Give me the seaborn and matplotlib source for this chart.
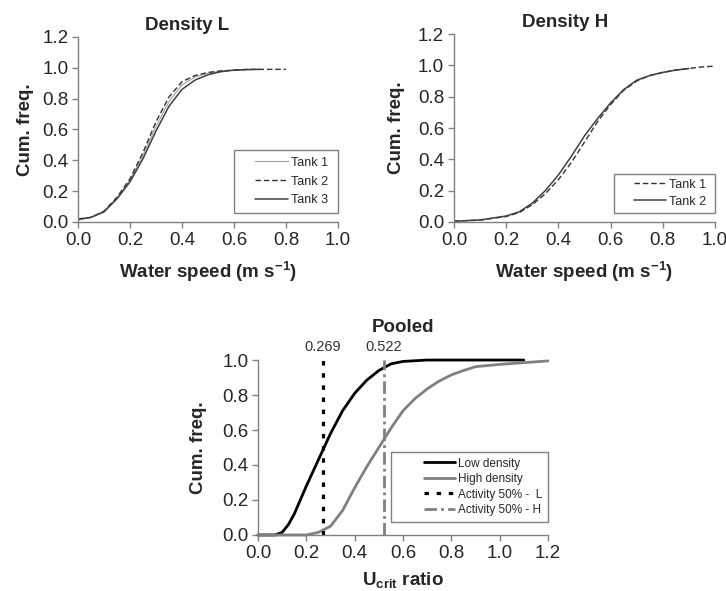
import matplotlib
matplotlib.use('Agg')
import matplotlib.pyplot as plt
from matplotlib.lines import Line2D
from matplotlib.legend_handler import HandlerLine2D
import seaborn as sns

# data
speed_L = [0, 0.05, 0.1, 0.15, 0.2, 0.25, 0.3, 0.35, 0.4, 0.45, 0.5, 0.55, 0.6, 0.65, 0.7, 0.75, 0.8]
L_tank1 = [0.02, 0.03, 0.07, 0.155, 0.27, 0.43, 0.62, 0.78, 0.89, 0.94, 0.965, 0.978, 0.985, 0.99, 0.99]
L_tank2 = [0.02, 0.03, 0.07, 0.16, 0.28, 0.45, 0.65, 0.81, 0.91, 0.95, 0.97, 0.98, 0.985, 0.99, 0.99, 0.99, 0.99]
L_tank3 = [0.015, 0.03, 0.065, 0.15, 0.26, 0.41, 0.59, 0.75, 0.86, 0.92, 0.955, 0.975, 0.985, 0.988, 0.99]

speed_H = [0, 0.1, 0.2, 0.25, 0.3, 0.35, 0.4, 0.45, 0.5, 0.55, 0.6, 0.65, 0.7, 0.75, 0.8, 0.85, 0.9, 0.95, 1.0]
H_tank1 = [0.005, 0.012, 0.035, 0.06, 0.11, 0.18, 0.27, 0.38, 0.51, 0.64, 0.75, 0.84, 0.9, 0.935, 0.955, 0.97, 0.98, 0.99, 0.995]
H_tank2 = [0.005, 0.013, 0.038, 0.065, 0.12, 0.20, 0.30, 0.42, 0.55, 0.66, 0.76, 0.845, 0.905, 0.935, 0.955, 0.97, 0.98]

low_x = [0, 0.07, 0.1, 0.126, 0.15, 0.2, 0.25, 0.3, 0.35, 0.4, 0.45, 0.5, 0.55, 0.6, 0.7, 0.8, 0.9, 1.0, 1.1]
low_y = [0, 0, 0.015, 0.06, 0.12, 0.28, 0.43, 0.58, 0.71, 0.81, 0.885, 0.94, 0.978, 0.992, 1.0, 1.0, 1.0, 1.0, 1.0]
high_x = [0, 0.2, 0.25, 0.3, 0.35, 0.4, 0.45, 0.5, 0.55, 0.6, 0.65, 0.7, 0.75, 0.8, 0.85, 0.9, 1.0, 1.1, 1.2]
high_y = [0, 0, 0.015, 0.05, 0.14, 0.27, 0.39, 0.50, 0.61, 0.71, 0.78, 0.835, 0.88, 0.915, 0.94, 0.962, 0.975, 0.985, 0.995]
act_L = 0.269
act_H = 0.522

sns.set_style("ticks")
plt.rcParams['font.family'] = ['Liberation Sans', 'DejaVu Sans']
plt.rcParams['mathtext.fontset'] = 'custom'
plt.rcParams['mathtext.rm'] = 'Liberation Sans'
plt.rcParams['mathtext.bf'] = 'Liberation Sans:bold'
plt.rcParams['mathtext.default'] = 'bf'

fig = plt.figure(figsize=(7.26, 5.91), dpi=100)
ax1 = fig.add_axes([0.1074, 0.6244, 0.358, 0.313])
ax2 = fig.add_axes([0.6253, 0.6244, 0.3595, 0.318])
ax3 = fig.add_axes([0.3554, 0.0948, 0.3994, 0.296])

spine_col = '#808080'


def style_axes(ax, xlim, ylim, xticks, yticks, ypad):
    ax.set_xlim(*xlim)
    ax.set_ylim(*ylim)
    ax.set_xticks(xticks)
    ax.set_yticks(yticks)
    ax.set_xticklabels(['%.1f' % t for t in xticks])
    ax.set_yticklabels(['%.1f' % t for t in yticks])
    for s in ['top', 'right']:
        ax.spines[s].set_visible(False)
    for s in ['left', 'bottom']:
        ax.spines[s].set_color(spine_col)
        ax.spines[s].set_linewidth(1)
    ax.tick_params(axis='both', labelsize=13.5, color=spine_col, length=4, width=1, pad=3)
    ax.set_ylabel('Cum. freq.', fontsize=13.5, fontweight='bold', labelpad=ypad)


def add_legend(ax, anchor, bp, ls, xpad, fs=8.5):
    leg = ax.legend(loc='lower right', bbox_to_anchor=anchor, fontsize=fs, frameon=True, fancybox=False,
                    framealpha=1, edgecolor=spine_col, handlelength=2.6 + xpad, borderpad=bp,
                    handletextpad=0.25, labelspacing=ls, borderaxespad=0,
                    handler_map={Line2D: HandlerLine2D(xpad=xpad)})
    leg.get_frame().set_linewidth(1)
    return leg


# Density L
sns.lineplot(x=speed_L[:len(L_tank1)], y=L_tank1, ax=ax1, color='#a0a0a0', lw=0.8, label='Tank 1 ')
sns.lineplot(x=speed_L, y=L_tank2, ax=ax1, color='#333333', lw=1, label='Tank 2 ', linestyle=(0, (4, 2)))
sns.lineplot(x=speed_L[:len(L_tank3)], y=L_tank3, ax=ax1, color='#404040', lw=1.1, label='Tank 3 ')
style_axes(ax1, (0, 1.0), (0, 1.2), [0, 0.2, 0.4, 0.6, 0.8, 1.0], [0, 0.2, 0.4, 0.6, 0.8, 1.0, 1.2], 6)
ax1.set_xlabel('Water speed (m s$^{-1}$)', fontsize=13.5, fontweight='bold', labelpad=8)
ax1.set_title('Density L', fontsize=13.5, fontweight='bold', x=0.42, pad=5)
add_legend(ax1, (1.0, 0.05), 0.5, 0.55, 1.2, fs=9)

# Density H
sns.lineplot(x=speed_H, y=H_tank1, ax=ax2, color='#333333', lw=1, label='Tank 1 ', linestyle=(0, (4, 2)))
sns.lineplot(x=speed_H[:len(H_tank2)], y=H_tank2, ax=ax2, color='#404040', lw=1.1, label='Tank 2 ')
style_axes(ax2, (0, 1.0), (0, 1.2), [0, 0.2, 0.4, 0.6, 0.8, 1.0], [0, 0.2, 0.4, 0.6, 0.8, 1.0, 1.2], 9)
ax2.set_xlabel('Water speed (m s$^{-1}$)', fontsize=13.5, fontweight='bold', labelpad=8)
ax2.set_title('Density H', fontsize=13.5, fontweight='bold', x=0.425, pad=5)
add_legend(ax2, (1.0, 0.05), 0.4, 0.4, 1.2, fs=9)

# Pooled
sns.lineplot(x=low_x, y=low_y, ax=ax3, color='black', lw=2, label='Low density', clip_on=False)
sns.lineplot(x=high_x, y=high_y, ax=ax3, color='#808080', lw=2, label='High density', clip_on=False)
ax3.axvline(act_L, ymin=0, ymax=1, color='black', lw=2.3, linestyle=(0, (1.4, 2.4)),
            label='Activity 50% -  L', clip_on=False)
ax3.axvline(act_H, ymin=0, ymax=1, color='#808080', lw=2, linestyle=(0, (4.5, 1.5, 1, 1.5)),
            label='Activity 50% - H', clip_on=False)
style_axes(ax3, (0, 1.2), (0, 1.0), [0, 0.2, 0.4, 0.6, 0.8, 1.0, 1.2], [0, 0.2, 0.4, 0.6, 0.8, 1.0], 11)
ax3.set_xlabel('U$_{crit}$ ratio', fontsize=13.5, fontweight='bold', labelpad=6)
ax3.set_title('Pooled', fontsize=13.5, fontweight='bold', pad=20)
for v in [act_L, act_H]:
    ax3.text(v, 1.035, '%.3f' % v, ha='center', va='bottom', fontsize=10.5, color='#333333',
             transform=ax3.get_xaxis_transform())
add_legend(ax3, (1.0, 0.074), 0.5, 0.3, 2.3)

fig.savefig('out.png', dpi=100)
